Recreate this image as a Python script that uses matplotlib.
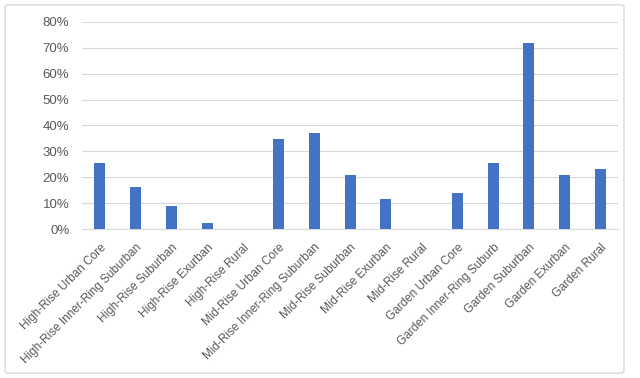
import matplotlib.pyplot as plt
from matplotlib import font_manager
from matplotlib.patches import FancyBboxPatch
from matplotlib.ticker import FuncFormatter

categories = ["High-Rise Urban Core", "High-Rise Inner-Ring Suburban",
              "High-Rise Suburban", "High-Rise Exurban", "High-Rise Rural",
              "Mid-Rise Urban Core", "Mid-Rise Inner-Ring Suburban",
              "Mid-Rise Suburban", "Mid-Rise Exurban", "Mid-Rise Rural",
              "Garden Urban Core", "Garden Inner-Ring Suburb",
              "Garden Suburban", "Garden Exurban", "Garden Rural"]
values = [0.254, 0.161, 0.091, 0.023, 0.0,
          0.348, 0.372, 0.209, 0.115, 0.0,
          0.139, 0.254, 0.720, 0.209, 0.232]
yticks = [0, 0.1, 0.2, 0.3, 0.4, 0.5, 0.6, 0.7, 0.8]

names = {f.name for f in font_manager.fontManager.ttflist}
if 'Liberation Sans Narrow' in names:
    plt.rcParams['font.family'] = ['Liberation Sans Narrow', 'DejaVu Sans']
    xsize = 9.5
else:
    plt.rcParams['font.family'] = ['Liberation Sans', 'DejaVu Sans']
    xsize = 8.5

fig = plt.figure(figsize=(6.4, 3.78), dpi=100)
ax = fig.add_axes([0.128, 0.394, 0.838, 0.548])

# outer chart border
fig.patches.append(FancyBboxPatch((0.008, 0.013), 0.967, 0.974,
                                  boxstyle="round,pad=0,rounding_size=0.005",
                                  transform=fig.transFigure, facecolor='none',
                                  edgecolor='#D9D9D9', linewidth=1.0))

x = range(len(categories))
ax.bar(x, values, width=0.31, color='#4472C4', zorder=3)

ax.set_xlim(-0.5, len(categories) - 0.5)
ax.set_ylim(0, 0.8)
ax.set_yticks(yticks)
ax.yaxis.set_major_formatter(FuncFormatter(lambda v, p: f"{v*100:.0f}%"))
ax.grid(axis='y', color='#D9D9D9', linewidth=0.8, zorder=0)

ax.set_xticks(list(x))
ax.set_xticklabels(categories, rotation=45, ha='right', va='top',
                   rotation_mode='anchor', fontsize=xsize)

for s in ['top', 'right', 'left']:
    ax.spines[s].set_visible(False)
ax.spines['bottom'].set_color('#D9D9D9')
ax.tick_params(axis='both', length=0, colors='#595959')
ax.tick_params(axis='y', pad=9, labelsize=9.5)
ax.tick_params(axis='x', pad=9)

fig.savefig("out.png", dpi=100)
